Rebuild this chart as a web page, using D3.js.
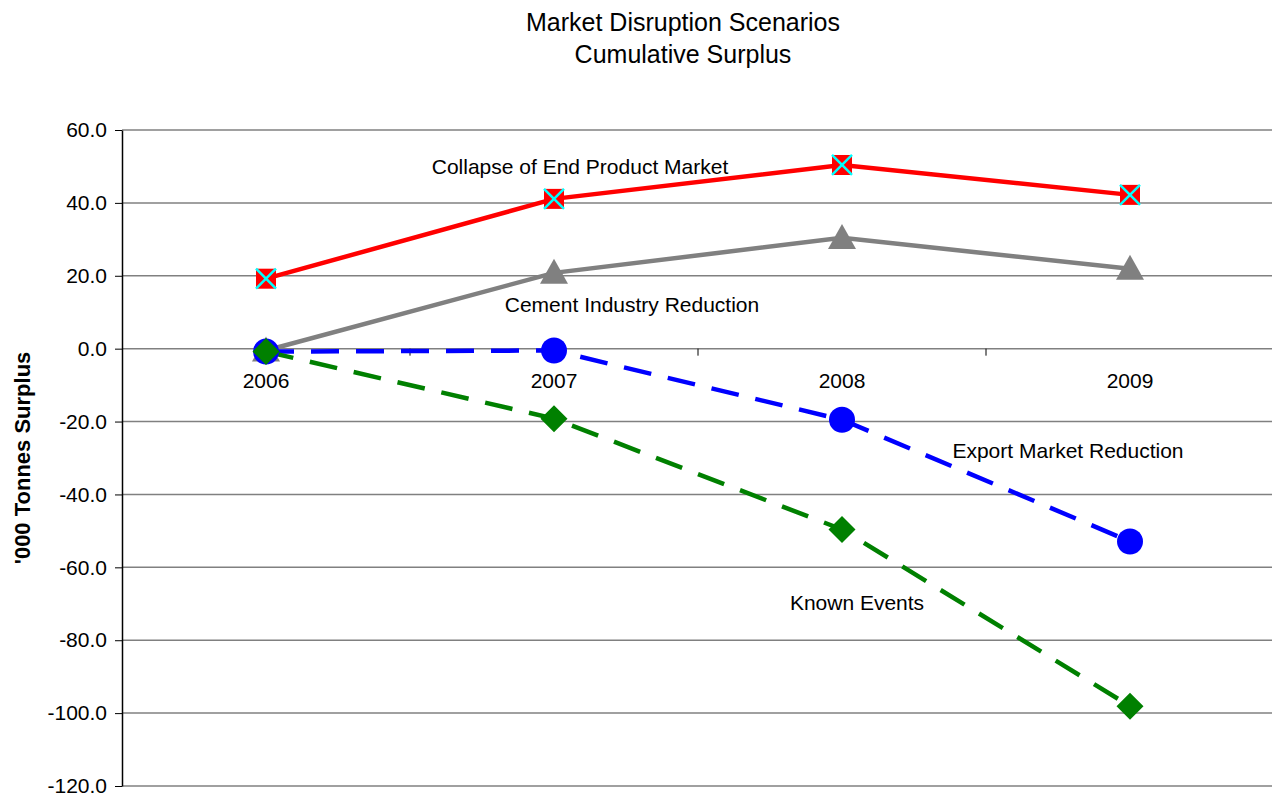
<!DOCTYPE html>
<html lang='en'>
<head>
<meta charset='utf-8'>
<title>Market Disruption Scenarios</title>
<script src='https://cdn.jsdelivr.net/npm/d3@7'></script>
<style>
	body { margin: 0; background: #fff; }
	text { font-family: 'Liberation Sans', Arial, sans-serif; }
</style>
</head>
<body>
<svg id='svg' width='1272' height='796'></svg>
<script>
// data
var years = ['2006', '2007', '2008', '2009'];
var collapseEnd = [19.2, 41.1, 50.4, 42.2];
var cementRed = [-0.5, 20.8, 30.4, 21.9];
var exportRed = [-0.8, -0.5, -19.5, -52.9];
var knownEvents = [-0.8, -19.2, -49.6, -98.1];
var yTicks = [60, 40, 20, 0, -20, -40, -60, -80, -100, -120];

{
var svg = d3.select('#svg');
var plotL = 122, plotR = 1274, plotT = 130, plotB = 786;

var x = d3.scaleBand().domain(years).range([plotL, plotR]);
var y = d3.scaleLinear().domain([-120, 60]).range([plotB, plotT]);
var xc = d => x(d) + x.bandwidth() / 2;

// titles
svg.append('text').attr('x', 683).attr('y', 31).attr('text-anchor', 'middle')
	.attr('font-size', 25).text('Market Disruption Scenarios');
svg.append('text').attr('x', 683).attr('y', 63).attr('text-anchor', 'middle')
	.attr('font-size', 25).text('Cumulative Surplus');

// gridlines
svg.append('g').selectAll('line').data(yTicks).enter().append('line')
	.attr('x1', plotL).attr('x2', plotR)
	.attr('y1', d => y(d)).attr('y2', d => y(d))
	.attr('stroke', '#808080').attr('stroke-width', 1.5);

// y axis
var yAxis = d3.axisLeft(y).tickValues(yTicks).tickFormat(d => d.toFixed(1)).tickSize(7).tickSizeOuter(0);
var ga = svg.append('g').attr('transform', 'translate(' + plotL + ',0)').call(yAxis);
ga.select('.domain').attr('stroke', '#000').attr('stroke-width', 1.5);
ga.selectAll('.tick line').attr('stroke', '#000');
ga.selectAll('.tick text').attr('font-size', 21).attr('fill', '#000')
	.attr('font-family', "'Liberation Sans', Arial, sans-serif").attr('x', -15);

// category axis on zero line
var gx = svg.append('g').attr('transform', 'translate(0,' + y(0) + ')');
gx.selectAll('line').data(years.slice(1)).enter().append('line')
	.attr('x1', d => x(d)).attr('x2', d => x(d)).attr('y1', 0).attr('y2', 7)
	.attr('stroke', '#000');
gx.selectAll('text').data(years).enter().append('text')
	.attr('x', d => xc(d)).attr('y', 39).attr('text-anchor', 'middle')
	.attr('font-size', 21).text(d => d);

// y label
svg.append('text').attr('transform', 'translate(30,458) rotate(-90)')
	.attr('text-anchor', 'middle').attr('font-size', 22).attr('font-weight', 'bold')
	.text("'000 Tonnes Surplus");

var line = d3.line().x((d, i) => xc(years[i])).y(d => y(d));

function drawLine(vals, color, dash) {
	svg.append('path').datum(vals).attr('d', line).attr('fill', 'none')
		.attr('stroke', color).attr('stroke-width', 4.5)
		.attr('stroke-dasharray', dash || null);
}

drawLine(cementRed, '#808080');
drawLine(collapseEnd, '#ff0000');
drawLine(exportRed, '#0000ff', '28,17');
drawLine(knownEvents, '#008000', '28,17');

// markers: gray triangles
svg.append('g').selectAll('path').data(cementRed).enter().append('path')
	.attr('transform', (d, i) => 'translate(' + xc(years[i]) + ',' + y(d) + ')')
	.attr('d', 'M0,-14 L14,11 L-14,11 Z').attr('fill', '#808080');

// red squares with cyan cross
var sq = svg.append('g').selectAll('g').data(collapseEnd).enter().append('g')
	.attr('transform', (d, i) => 'translate(' + xc(years[i]) + ',' + y(d) + ')');
sq.append('rect').attr('x', -10).attr('y', -10).attr('width', 20).attr('height', 20).attr('fill', '#ff0000');
sq.append('path').attr('d', 'M-10,-10 L10,10 M-10,10 L10,-10').attr('stroke', '#00ffff').attr('stroke-width', 2.5);

// blue circles
svg.append('g').selectAll('circle').data(exportRed).enter().append('circle')
	.attr('cx', (d, i) => xc(years[i])).attr('cy', d => y(d)).attr('r', 13).attr('fill', '#0000ff');

// green diamonds
svg.append('g').selectAll('path').data(knownEvents).enter().append('path')
	.attr('transform', (d, i) => 'translate(' + xc(years[i]) + ',' + y(d) + ')')
	.attr('d', 'M0,-13.5 L13.5,0 L0,13.5 L-13.5,0 Z').attr('fill', '#008000');

// series labels
var labels = [
	{t: 'Collapse of End Product Market', x: 580, y: 174},
	{t: 'Cement Industry Reduction', x: 632, y: 312},
	{t: 'Export Market Reduction', x: 1068, y: 458},
	{t: 'Known Events', x: 857, y: 610}
];
svg.append('g').selectAll('text').data(labels).enter().append('text')
	.attr('x', d => d.x).attr('y', d => d.y).attr('text-anchor', 'middle')
	.attr('font-size', 21).text(d => d.t);
}
</script>
</body>
</html>
